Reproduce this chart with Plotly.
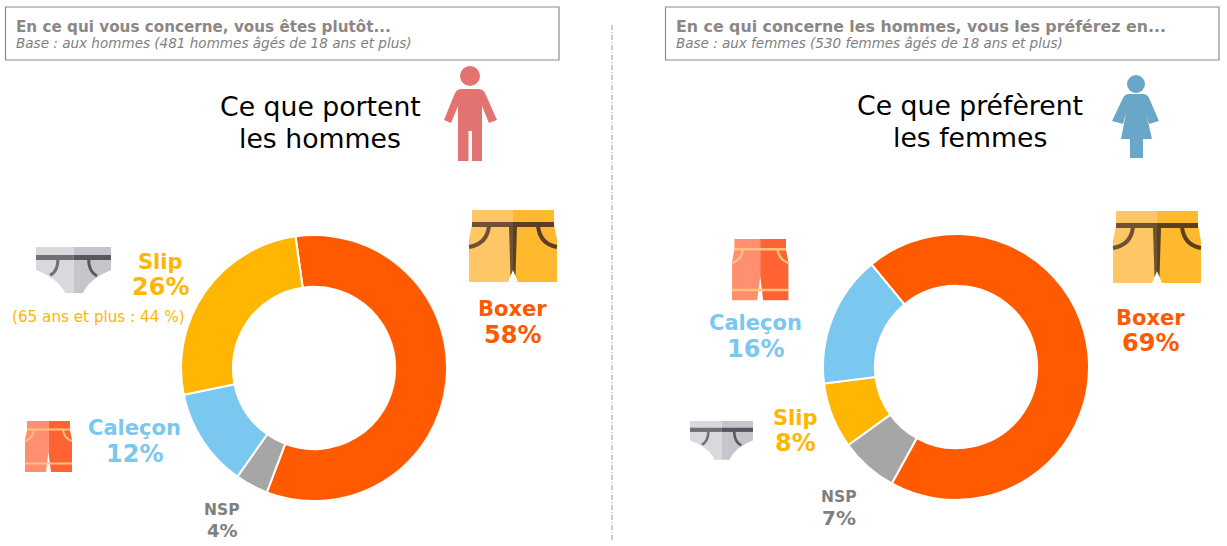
import plotly.graph_objects as go

W, H = 1227, 546
FONT = "DejaVu Sans"

categories_h = ["Boxer", "NSP", "Caleçon", "Slip"]
hommes = [58, 4, 12, 26]
categories_f = ["Boxer", "NSP", "Slip", "Caleçon"]
femmes = [69, 7, 8, 16]
cat_colors = {"Boxer": "#FF5A00", "NSP": "#A6A6A6", "Caleçon": "#7AC8F0", "Slip": "#FFB600"}


def px(x):
    return x / W


def py(y):
    return 1 - y / H


def tr_path(cmds, sx, sy, ox, oy):
    out = []
    for c in cmds:
        if isinstance(c, str):
            out.append(c)
        else:
            out.append(f"{px(ox + c[0] * sx):.5f},{py(oy + c[1] * sy):.5f}")
    return " ".join(out)


shapes = []


def add_icon(parts, sx=1, sy=1, ox=0, oy=0):
    for color, cmds, lw in parts:
        d = dict(type="path", xref="paper", yref="paper", path=tr_path(cmds, sx, sy, ox, oy), layer="above")
        if lw:
            d.update(line=dict(color=color, width=lw * sx), fillcolor="rgba(0,0,0,0)")
        else:
            d.update(line=dict(width=0), fillcolor=color)
        shapes.append(d)


def add_head(cx, cy, r, color):
    shapes.append(dict(type="circle", xref="paper", yref="paper", x0=px(cx - r), x1=px(cx + r),
                       y0=py(cy + r), y1=py(cy - r), fillcolor=color, line=dict(width=0)))


# Slip icon, local box 36..111 / 247..293
SLIP = [
    ("#D9D9DD", ["M", (36, 247), "L", (73.5, 247), "L", (73.5, 293), "L", (65, 293), "Q", (59, 279), (36, 270), "Z"], 0),
    ("#C5C5CB", ["M", (73.5, 247), "L", (111, 247), "L", (111, 270), "Q", (89, 279), (83, 293), "L", (73.5, 293), "Z"], 0),
    ("#6F6F74", ["M", (58, 258), "Q", (58, 272), (50, 275)], 3),
    ("#57575C", ["M", (88.5, 258), "Q", (88.5, 272), (97, 276)], 3),
    ("#6F6F74", ["M", (36, 255), "L", (73.5, 255), "L", (73.5, 260), "L", (36, 260), "Z"], 0),
    ("#57575C", ["M", (73.5, 255), "L", (111, 255), "L", (111, 260), "L", (73.5, 260), "Z"], 0),
]
# Caleçon icon, local box 25..72 / 421..472
CALECON = [
    ("#FF8F70", ["M", (27, 421), "L", (48.5, 421), "L", (48.5, 452), "L", (46, 472), "L", (25, 472), "L", (25, 440), "L", (27, 430), "Z"], 0),
    ("#FF6233", ["M", (48.5, 421), "L", (70, 421), "L", (70, 430), "L", (72, 440), "L", (72, 472), "L", (51, 472), "L", (48.5, 452), "Z"], 0),
    ("#FFC27A", ["M", (27, 429.5), "L", (70, 429.5)], 2),
    ("#FFC27A", ["M", (25, 463.5), "L", (72, 463.5)], 2),
    ("#FFC27A", ["M", (34, 430), "Q", (33, 438), (25, 441)], 2),
    ("#FFC27A", ["M", (63, 430), "Q", (64, 438), (72, 441)], 2),
]
# Boxer icon, local box 469..557 / 210..282
BOXER = [
    ("#FFC666", ["M", (472, 210), "L", (513, 210), "L", (513, 270), "L", (508, 282), "L", (469, 282), "L", (469, 240), "L", (472, 224), "Z"], 0),
    ("#FFB92E", ["M", (513, 210), "L", (554, 210), "L", (554, 224), "L", (557, 240), "L", (557, 282), "L", (518, 282), "L", (513, 270), "Z"], 0),
    ("#6F5233", ["M", (489, 226), "Q", (487, 244), (469, 247)], 4),
    ("#5A4020", ["M", (538, 226), "Q", (540, 244), (557, 247)], 4),
    ("#6F5233", ["M", (472, 222), "L", (513, 222), "L", (513, 227), "L", (472, 227), "Z"], 0),
    ("#5A4020", ["M", (513, 222), "L", (554, 222), "L", (554, 227), "L", (513, 227), "Z"], 0),
    ("#6F5233", ["M", (509, 227), "L", (513, 227), "L", (513, 270), "L", (510.5, 276), "Z"], 0),
    ("#5A4020", ["M", (513, 227), "L", (517, 227), "L", (515.5, 276), "L", (513, 270), "Z"], 0),
]
MAN = [
    ("#E27371", ["M", (462, 89), "L", (478, 89), "Q", (483, 89), (485, 93), "L", (497, 120), "L", (489, 123),
                 "L", (482, 106), "L", (482, 161), "L", (472, 161), "L", (472, 131), "L", (468.5, 131), "L", (468.5, 161),
                 "L", (458, 161), "L", (458, 106), "L", (451, 123), "L", (444, 120), "L", (455, 93), "Q", (457, 89), (462, 89), "Z"], 0),
]
WOMAN = [
    ("#69A7C8", ["M", (1129, 94), "L", (1143, 94), "Q", (1147, 94), (1149, 98), "L", (1159, 121), "L", (1149, 124),
                 "L", (1146, 113), "L", (1152, 139), "L", (1143, 139), "L", (1143, 158), "L", (1130, 158), "L", (1130, 139),
                 "L", (1121, 139), "L", (1126, 113), "L", (1123, 124), "L", (1112, 121), "L", (1123, 98), "Q", (1125, 94), (1129, 94), "Z"], 0),
]

add_icon(MAN)
add_head(470, 76, 10, "#E27371")
add_icon(WOMAN)
add_head(1136, 84, 9, "#69A7C8")
add_icon(SLIP)
add_icon(CALECON)
add_icon(BOXER)
add_icon(BOXER, ox=644, oy=1)
add_icon(CALECON, sx=1.2, sy=1.2, ox=732 - 25 * 1.2, oy=239 - 421 * 1.2)
add_icon(SLIP, sx=0.84, sy=0.84, ox=690 - 36 * 0.84, oy=421 - 247 * 0.84)

# Question boxes and divider
for x0, x1 in [(5.5, 559), (665.5, 1219)]:
    shapes.append(dict(type="rect", xref="paper", yref="paper", x0=px(x0), x1=px(x1), y0=py(60), y1=py(7),
                       line=dict(color="#8C8C8C", width=1.2), fillcolor="rgba(0,0,0,0)"))
shapes.append(dict(type="line", xref="paper", yref="paper", x0=px(612), x1=px(612), y0=py(25), y1=py(541),
                   line=dict(color="#9A9A9A", width=1, dash="5px,2px,1px,2px")))

annotations = []


def text(t, x, y, size, color, bold=False, italic=False, anchor="center"):
    annotations.append(dict(
        text=f"<b>{t}</b>" if bold else (f"<i>{t}</i>" if italic else t),
        x=px(x), y=py(y), xref="paper", yref="paper", showarrow=False,
        xanchor=anchor, yanchor="middle", borderpad=0,
        font=dict(family=FONT, size=size, color=color),
    ))


text("En ce qui vous concerne, vous êtes plutôt...", 15, 27, 15.2, "#8C8785", bold=True, anchor="left")
text("Base : aux hommes (481 hommes âgés de 18 ans et plus)", 15, 43, 13.55, "#7F7F7F", italic=True, anchor="left")
text("En ce qui concerne les hommes, vous les préférez en...", 675, 26, 15.8, "#8C8785", bold=True, anchor="left")
text("Base : aux femmes (530 femmes âgés de 18 ans et plus)", 675, 43, 13.5, "#7F7F7F", italic=True, anchor="left")

text("Ce que portent", 320, 107, 26.7, "#000000")
text("les hommes", 320, 138, 26.7, "#000000")
text("Ce que préfèrent", 970, 106, 26.7, "#000000")
text("les femmes", 970, 137, 26.7, "#000000")

# Data labels: category line + value line
label_pos_h = {"Boxer": (512, 309, 335, 21, 24), "Slip": (160, 262, 287, 21, 24),
               "Caleçon": (134, 428, 454, 21, 24), "NSP": (222, 510, 530, 15.5, 18)}
label_pos_f = {"Boxer": (1150, 318, 343, 21, 24), "Slip": (795, 418, 443, 21, 24),
               "Caleçon": (756, 323, 349, 21, 24), "NSP": (839, 497, 518, 15.5, 20)}
label_color = {"Boxer": "#FF5A00", "Slip": "#FFB600", "Caleçon": "#7AC8F0", "NSP": "#7F7F7F"}
for cats, vals, pos in [(categories_h, hommes, label_pos_h), (categories_f, femmes, label_pos_f)]:
    for cat, v in zip(cats, vals):
        x, y1, y2, s1, s2 = pos[cat]
        text(cat, x, y1, s1, label_color[cat], bold=True)
        text(f"{v}%", x, y2, s2, label_color[cat], bold=True)
text("(65 ans et plus : 44 %)", 98.5, 317, 15.2, "#FFB600")

fig = go.Figure()
R = 133
for cats, vals, cx, cy, rot in [(categories_h, hommes, 314, 368, -8), (categories_f, femmes, 956, 367, -39.5)]:
    fig.add_trace(go.Pie(
        labels=cats, values=vals, sort=False, direction="clockwise", rotation=rot,
        hole=0.61, textinfo="none", hoverinfo="label+percent", showlegend=False,
        marker=dict(colors=[cat_colors[c] for c in cats], line=dict(color="#FFFFFF", width=2)),
        domain=dict(x=[px(cx - R), px(cx + R)], y=[py(cy + R), py(cy - R)]),
    ))

fig.update_layout(
    width=W, height=H, margin=dict(l=0, r=0, t=0, b=0, autoexpand=False),
    paper_bgcolor="#FFFFFF", plot_bgcolor="#FFFFFF",
    shapes=shapes, annotations=annotations, showlegend=False,
    font=dict(family=FONT),
)
fig.write_html("out.html", config=dict(displayModeBar=False),
               post_script="document.body.style.margin='0';")
